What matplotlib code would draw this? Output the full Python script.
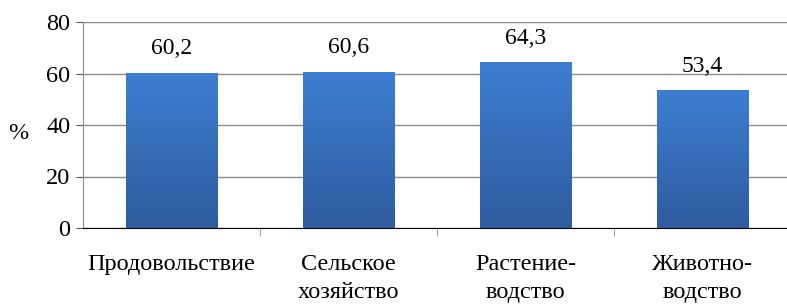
import numpy as np
import matplotlib.pyplot as plt
from matplotlib.colors import LinearSegmentedColormap

categories = ["Продовольствие", "Сельское\nхозяйство", "Растение-\nводство", "Животно-\nводство"]
values = [60.2, 60.6, 64.3, 53.4]
value_labels = ["60,2", "60,6", "64,3", "53,4"]
y_ticks = [0, 20, 40, 60, 80]

plt.rcParams['font.family'] = ['Liberation Serif', 'DejaVu Serif']

fig = plt.figure(figsize=(7.87, 3.06), dpi=100)
ax = fig.add_axes([83 / 787, 1 - 228 / 306, (791 - 83) / 787, (228 - 22) / 306])

bars = ax.bar(range(len(values)), values, width=0.515, color='#3570bb', zorder=2)

# vertical gradient inside each bar
grad = np.linspace(1, 0, 256).reshape(-1, 1)
cmap = LinearSegmentedColormap.from_list('bluegrad', ['#2e5c9e', '#3d7ed2'])
for b in bars:
    x0, w, h = b.get_x(), b.get_width(), b.get_height()
    im = ax.imshow(grad[::-1], extent=[x0, x0 + w, 0, h], origin='lower', cmap=cmap,
                   aspect='auto', zorder=3)
    im.set_clip_path(b)
    b.set_facecolor('none')

for i, (v, lab) in enumerate(zip(values, value_labels)):
    ax.annotate(lab, (i, v), xytext=(0, 10), textcoords='offset points',
                ha='center', va='bottom', fontsize=17)

ax.set_xlim(-0.5, len(values) - 0.5)
ax.set_ylim(0, 80)
ax.set_yticks(y_ticks)
ax.yaxis.grid(True, color='#8c8c8c', linewidth=1, zorder=0)
ax.set_axisbelow(True)

ax.set_xticks(range(len(values)))
ax.set_xticklabels(categories, fontsize=17.5, linespacing=1.4, va='top')
ax.tick_params(axis='x', length=0, pad=19)
ax.set_xticks([0.5, 1.5, 2.5], minor=True)
ax.tick_params(axis='x', which='minor', length=6, color='#8c8c8c', direction='out')
ax.tick_params(axis='y', labelsize=17.5, length=5, color='#555555', pad=4)

for s in ['top', 'right']:
    ax.spines[s].set_visible(False)
ax.spines['left'].set_color('#8c8c8c')
ax.spines['bottom'].set_color('black')
ax.spines['bottom'].set_zorder(5)

ax.set_ylabel('%', fontsize=17.5, rotation=0, va='center', ha='center')
ax.yaxis.set_label_coords(-0.092, 0.46)

fig.savefig('out.png', dpi=100)
